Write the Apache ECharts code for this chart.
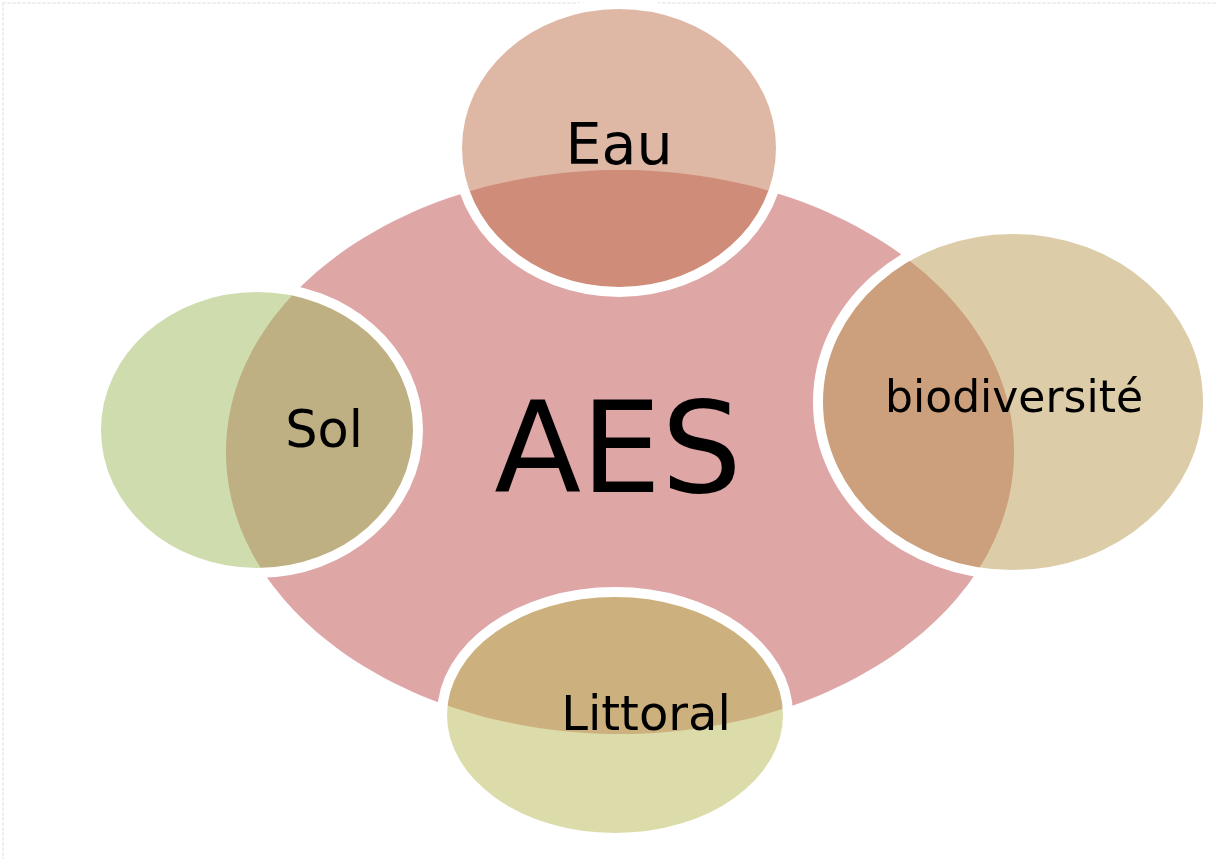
<!DOCTYPE html>
<html>
<head>
<meta charset="utf-8">
<title>AES</title>
<script src="https://cdn.jsdelivr.net/npm/echarts@6/dist/echarts.min.js"></script>
<style>
    html, body { margin: 0; padding: 0; background: #fff; }
    #chart { width: 1216px; height: 859px; }
</style>
</head>
<body>
<div id="chart"></div>
<script>

/* ===========================
   Data
=========================== */

const coreName = ["AES"];
const coreX = [620];
const coreY = [452];
const coreRx = [394];
const coreRy = [282];

const themeNames = ["Eau", "biodiversité", "Sol", "Littoral"];
const themeX = [619, 1013, 257, 615];
const themeY = [148, 402, 430, 715];
const themeRx = [157, 190, 156, 168];
const themeRy = [139, 168, 138, 118];

const labelNames = ["AES", "Eau", "biodiversité", "Sol", "Littoral"];
const labelX = [618, 619, 1014, 324, 646];
const labelY = [449, 145, 397, 430, 714];

/* ===========================
   Styles
=========================== */

const coreColor = "rgb(223,166,166)";
const themeColors = [
    "rgba(191,113,75,0.5)",
    "rgba(185,153,81,0.5)",
    "rgba(157,185,93,0.5)",
    "rgba(185,185,85,0.5)"
];
const labelSizes = [127, 57, 44, 51, 48];
const ringWidth = 10;

/* ===========================
   Render
=========================== */

function ellipseItem(params, api, fill, stroke) {

    const c = api.coord([api.value(0), api.value(1)]);
    const s = api.size([api.value(2), api.value(3)]);
    const pad = stroke ? ringWidth / 2 : 0;

    return {
        type: "ellipse",
        shape: {
            cx: c[0],
            cy: c[1],
            rx: s[0] + pad,
            ry: s[1] + pad
        },
        style: {
            fill: fill,
            stroke: stroke || null,
            lineWidth: stroke ? ringWidth : 0
        }
    };

}

const chart = echarts.init(document.getElementById("chart"));

chart.setOption({

    animation: false,

    grid: {
        left: 3,
        top: 3,
        right: 0,
        bottom: 0
    },

    xAxis: {
        type: "value",
        position: "top",
        min: 3,
        max: 1216,
        axisLine: {
            show: true,
            lineStyle: { color: "#eeeeee", type: [2, 3], width: 2 }
        },
        axisTick: { show: false },
        axisLabel: { show: false },
        splitLine: { show: false }
    },

    yAxis: {
        type: "value",
        inverse: true,
        min: 3,
        max: 859,
        axisLine: {
            show: true,
            lineStyle: { color: "#eeeeee", type: [2, 3], width: 2 }
        },
        axisTick: { show: false },
        axisLabel: { show: false },
        splitLine: { show: false }
    },

    series: [
        {
            name: "core",
            type: "custom",
            z: 1,
            data: coreName.map((n, i) => [coreX[i], coreY[i], coreRx[i], coreRy[i]]),
            renderItem: (params, api) =>
                ellipseItem(params, api, coreColor, null)
        },
        {
            name: "themes",
            type: "custom",
            z: 2,
            data: themeNames.map((n, i) => [themeX[i], themeY[i], themeRx[i], themeRy[i]]),
            renderItem: (params, api) =>
                ellipseItem(params, api, themeColors[params.dataIndex], "#ffffff")
        },
        {
            name: "labels",
            type: "custom",
            z: 3,
            data: labelNames.map((n, i) => [labelX[i], labelY[i]]),
            renderItem: (params, api) => {
                const c = api.coord([api.value(0), api.value(1)]);
                const size = labelSizes[params.dataIndex];
                return {
                    type: "text",
                    x: c[0],
                    // nudge: "middle" centres the em box, not the capitals
                    y: c[1] + size * 0.08,
                    style: {
                        text: labelNames[params.dataIndex],
                        fill: "#000",
                        fontFamily: "DejaVu Sans",
                        fontSize: size,
                        align: "center",
                        verticalAlign: "middle"
                    }
                };
            }
        }
    ]

});

</script>
</body>
</html>
